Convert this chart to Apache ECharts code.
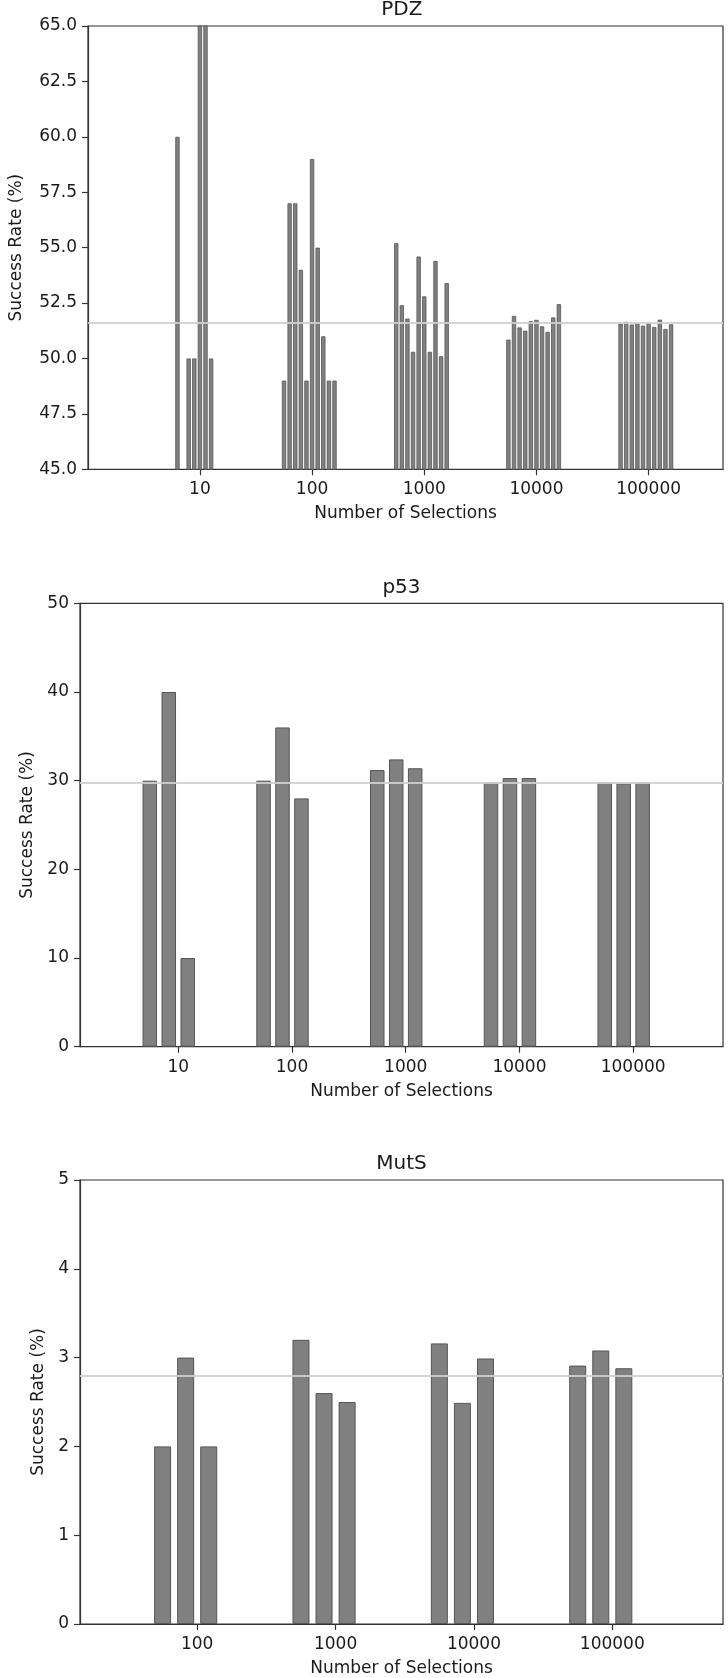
<!DOCTYPE html>
<html><head><meta charset="utf-8">
<script src="https://cdn.jsdelivr.net/npm/echarts@6/dist/echarts.min.js"></script>
<style>html,body{margin:0;padding:0;background:#fff;}#c{width:728px;height:1678px;}</style>
</head><body><div id="c"></div>
<script>
// ---------- PDZ ----------
const pdzSelections = [10, 100, 1000, 10000, 100000];
const pdzRuns10 = [40, 60, 40, 50, 50, 70, 70, 50, 40, 40];   // bars below 45 are hidden by the axis
const pdzRuns100 = [49, 57, 57, 54, 49, 59, 55, 51, 49, 49];
const pdzRuns1000 = [55.2, 52.4, 51.8, 50.3, 54.6, 52.8, 50.3, 54.4, 50.1, 53.4];
const pdzRuns10000 = [50.85, 51.92, 51.40, 51.25, 51.68, 51.74, 51.45, 51.20, 51.85, 52.45];
const pdzRuns100000 = [51.57, 51.65, 51.53, 51.59, 51.48, 51.60, 51.42, 51.75, 51.33, 51.54];
const pdzMean = 51.6;
const pdzYTicks = [45, 47.5, 50, 52.5, 55, 57.5, 60, 62.5, 65];
const pdzXTickLabels = ['10', '100', '1000', '10000', '100000'];

// ---------- p53 ----------
const p53Selections = [10, 100, 1000, 10000, 100000];
const p53Runs10 = [30, 40, 10];
const p53Runs100 = [30, 36, 28];
const p53Runs1000 = [31.2, 32.4, 31.4];
const p53Runs10000 = [29.8, 30.3, 30.3];
const p53Runs100000 = [29.8, 29.7, 29.8];
const p53Mean = 29.8;
const p53YTicks = [0, 10, 20, 30, 40, 50];
const p53XTickLabels = ['10', '100', '1000', '10000', '100000'];

// ---------- MutS ----------
const mutsSelections = [100, 1000, 10000, 100000];
const mutsRuns100 = [2, 3, 2];
const mutsRuns1000 = [3.2, 2.6, 2.5];
const mutsRuns10000 = [3.16, 2.49, 2.99];
const mutsRuns100000 = [2.91, 3.08, 2.88];
const mutsMean = 2.8;
const mutsYTicks = [0, 1, 2, 3, 4, 5];
const mutsXTickLabels = ['100', '1000', '10000', '100000'];

// bars of one group sit at N * 10^((i - n/2) / (2n)) on the log axis
function barData(selections, groups) {
  const out = [];
  selections.forEach((N, g) => {
    const runs = groups[g];
    const n = runs.length;
    runs.forEach((v, i) => out.push([Math.log10(N) + (i - n / 2) / (2 * n), v]));
  });
  return out;
}

const FONT = 'DejaVu Sans';
const TXT = '#1a1a1a';
const AX = '#333333';

const panels = [
  { title: 'PDZ', sel: pdzSelections, groups: [pdzRuns10, pdzRuns100, pdzRuns1000, pdzRuns10000, pdzRuns100000],
    mean: pdzMean, yTicks: pdzYTicks, xLabels: pdzXTickLabels, yDec: 1,
    grid: { left: 80.5, top: 26, width: 642.5, height: 443.3 }, xr: [0.0026, 5.663], bw: 4.3, bwid: 0.8, nameGap: 63 },
  { title: 'p53', sel: p53Selections, groups: [p53Runs10, p53Runs100, p53Runs1000, p53Runs10000, p53Runs100000],
    mean: p53Mean, yTicks: p53YTicks, xLabels: p53XTickLabels, yDec: 0,
    grid: { left: 80, top: 603.3, width: 643, height: 443.4 }, xr: [0.136, 5.79], bw: 14.5, bwid: 1, nameGap: 42 },
  { title: 'MutS', sel: mutsSelections, groups: [mutsRuns100, mutsRuns1000, mutsRuns10000, mutsRuns100000],
    mean: mutsMean, yTicks: mutsYTicks, xLabels: mutsXTickLabels, yDec: 0,
    grid: { left: 80, top: 1180, width: 643, height: 447.3 }, xr: [1.153, 5.80], bw: 17, bwid: 1, nameGap: 30 }
];

const option = { animation: false, backgroundColor: '#fff', title: [], grid: [], xAxis: [], yAxis: [], series: [] };

panels.forEach((p, k) => {
  option.title.push({
    text: p.title, left: p.grid.left + p.grid.width / 2, top: Math.max(0, p.grid.top - 26), textAlign: 'center', padding: 0,
    textStyle: { fontFamily: FONT, fontSize: 20, fontWeight: 'normal', color: TXT }
  });
  option.grid.push(Object.assign({ show: true, borderColor: AX, borderWidth: 1.2, backgroundColor: 'transparent', containLabel: false }, p.grid));
  const xVals = p.xLabels.map(s => Math.log10(Number(s)));
  option.xAxis.push({
    type: 'value', gridIndex: k, min: p.xr[0], max: p.xr[1],
    name: 'Number of Selections', nameLocation: 'middle', nameGap: 36,
    nameTextStyle: { fontFamily: FONT, fontSize: 17, color: TXT },
    axisLine: { show: true, onZero: false, lineStyle: { color: AX, width: 1.2 } },
    axisTick: { show: true, inside: false, length: 6, customValues: xVals, lineStyle: { color: AX, width: 1.2 } },
    axisLabel: { show: true, customValues: xVals, margin: 12, fontFamily: FONT, fontSize: 17, color: TXT,
      formatter: v => p.xLabels[xVals.findIndex(t => Math.abs(t - v) < 1e-6)] || '' },
    splitLine: { show: false }
  });
  const yMin = p.yTicks[0], yMax = p.yTicks[p.yTicks.length - 1];
  option.yAxis.push({
    type: 'value', gridIndex: k, min: yMin, max: yMax, interval: p.yTicks[1] - p.yTicks[0],
    name: 'Success Rate (%)', nameLocation: 'middle', nameGap: p.nameGap,
    nameTextStyle: { fontFamily: FONT, fontSize: 17, color: TXT },
    axisLine: { show: true, lineStyle: { color: AX, width: 1.2 } },
    axisTick: { show: true, inside: false, length: 6, lineStyle: { color: AX, width: 1.2 } },
    axisLabel: { margin: 11, fontFamily: FONT, fontSize: 17, color: TXT, formatter: v => Number(v).toFixed(p.yDec) },
    splitLine: { show: false }
  });
  option.series.push({
    type: 'bar', xAxisIndex: k, yAxisIndex: k, barWidth: p.bw, clip: true,
    data: barData(p.sel, p.groups),
    itemStyle: { color: '#808080', borderColor: '#555555', borderWidth: p.bwid },
    markLine: {
      silent: true, symbol: 'none', animation: false,
      label: { show: false },
      lineStyle: { color: '#cfcfcf', width: 2, type: 'solid', opacity: 0.9 },
      data: [{ yAxis: p.mean }]
    }
  });
});

const chart = echarts.init(document.getElementById('c'), null, { renderer: 'canvas' });
chart.setOption(option);
</script>
</body></html>
